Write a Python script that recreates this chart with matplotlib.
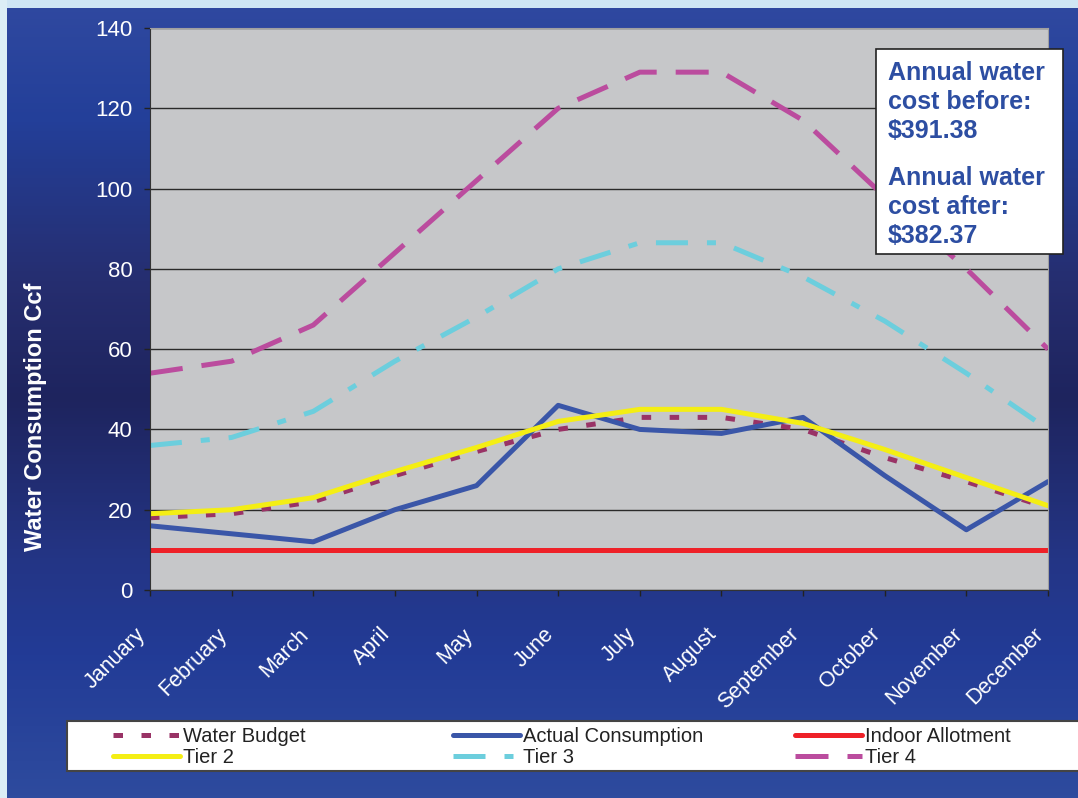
import numpy as np
import matplotlib
matplotlib.use('Agg')
import matplotlib.pyplot as plt
from matplotlib.colors import LinearSegmentedColormap
from matplotlib.patches import Rectangle

plt.rcParams['font.family'] = ['Liberation Sans', 'DejaVu Sans']

months = ['January', 'February', 'March', 'April', 'May', 'June', 'July',
          'August', 'September', 'October', 'November', 'December']

water_budget = [18, 19, 22, 28.5, 34.5, 40, 43, 43, 40, 33, 27, 20.5]
actual = [16, 14, 12, 20, 26, 46, 40, 39, 43, 28.5, 15, 27]
indoor = [10] * 12
tier2 = [19, 20, 23, 29.5, 35.5, 42, 45, 45, 41.5, 35, 28, 21]
tier3 = [36, 38, 44.5, 57, 68, 80, 86.5, 86.5, 78, 67, 54, 40]
tier4 = [54, 57, 66, 84, 102, 120, 129, 129, 117, 98, 80, 60]

yticks = [0, 20, 40, 60, 80, 100, 120, 140]
cost_before = '$391.38'
cost_after = '$382.37'

W, H = 1078, 798
fig = plt.figure(figsize=(W / 100, H / 100), dpi=100)

# slide background gradient
bg = fig.add_axes([0, 0, 1, 1], zorder=-10)
cmap = LinearSegmentedColormap.from_list('slide', [
    (0.0, '#3049a0'), (0.15, '#233f99'), (0.35, '#262e70'), (0.5, '#1e245e'),
    (0.7, '#243585'), (0.82, '#223b96'), (1.0, '#2e4b9e')])
grad = np.linspace(0, 1, 256).reshape(-1, 1)
bg.imshow(grad, aspect='auto', cmap=cmap, extent=[0, 1, 0, 1], origin='upper')
bg.set_xlim(0, 1)
bg.set_ylim(0, 1)
bg.axis('off')
bg.add_patch(Rectangle((0, 1 - 8 / H), 1, 8 / H, color='#cfe6f4', lw=0))
bg.add_patch(Rectangle((0, 0), 7 / W, 1, color='#dceef6', lw=0))

ax = fig.add_axes([150 / W, 1 - 590 / H, 898 / W, 562 / H])
ax.set_facecolor('#c6c7c9')
x = np.arange(len(months))

lw = 3.6
l_wb, = ax.plot(x, water_budget, color='#993366', lw=lw, dashes=(1.9, 3.7),
                label='Water Budget')
l_ac, = ax.plot(x, actual, color='#3a56a8', lw=lw, solid_capstyle='round',
                solid_joinstyle='round', label='Actual Consumption')
l_in, = ax.plot(x, indoor, color='#ee2128', lw=lw, solid_capstyle='round',
                label='Indoor Allotment')
l_t2, = ax.plot(x, tier2, color='#f4ee14', lw=lw, solid_capstyle='round',
                solid_joinstyle='round', label='Tier 2')
l_t3, = ax.plot(x, tier3, color='#6ccedd', lw=lw, dashes=(6.4, 3.8, 1.8, 3.8),
                label='Tier 3')
l_t4, = ax.plot(x, tier4, color='#bb4c9e', lw=lw, dashes=(6.6, 3.8),
                label='Tier 4')

ax.set_xlim(0, 11)
ax.set_ylim(0, 140)
ax.set_yticks(yticks)
ax.set_xticks(x)
ax.set_xticklabels(months, rotation=45, ha='right', va='top')
ax.tick_params(axis='both', colors='#222222', labelcolor='white',
               labelsize=16, length=4.5, width=1)
ax.tick_params(axis='x', labelsize=15.5, pad=20)
ax.tick_params(axis='y', pad=8)
ax.yaxis.grid(True, color='#2a2a2a', lw=1)
ax.set_axisbelow(True)
for side in ['left', 'bottom']:
    ax.spines[side].set_color('#333333')
for side in ['top', 'right']:
    ax.spines[side].set_color('#a0a0a0')

fig.text(36 / W, 1 - 417 / H, 'Water Consumption Ccf', rotation=90,
         color='white', fontsize=17, fontweight='bold', ha='center', va='center')

# cost annotation box
fig.patches.append(Rectangle((876 / W, 1 - 254 / H), 187 / W, 205 / H,
                             transform=fig.transFigure, facecolor='white',
                             edgecolor='#222222', lw=1.2, zorder=5))
fig.text(888 / W, 1 - 61 / H, 'Annual water\ncost before:\n' + cost_before.replace('$', r'\$'),
         color='#2d4ea2', fontsize=18, fontweight='bold', va='top', linespacing=1.27, zorder=6)
fig.text(888 / W, 1 - 166 / H, 'Annual water\ncost after:\n' + cost_after.replace('$', r'\$'),
         color='#2d4ea2', fontsize=18, fontweight='bold', va='top', linespacing=1.27, zorder=6)

# legend box
fig.patches.append(Rectangle((67 / W, 1 - 771 / H), (W - 67 + 5) / W, 50 / H,
                             transform=fig.transFigure, facecolor='white',
                             edgecolor='#444444', lw=1.5, zorder=5))
columns = [(113, [l_wb, l_t2]), (453, [l_ac, l_t3]), (795, [l_in, l_t4])]
for xpos, handles in columns:
    leg = fig.legend(handles=handles, loc='upper left',
                     bbox_to_anchor=(xpos / W, 1 - 727 / H), frameon=False,
                     fontsize=14.5, borderpad=0, borderaxespad=0,
                     handlelength=3.35, handletextpad=0.15, labelspacing=0.1)
    leg.set_zorder(7)
    for t in leg.get_texts():
        t.set_color('#222222')

fig.savefig('out.png', dpi=100)
